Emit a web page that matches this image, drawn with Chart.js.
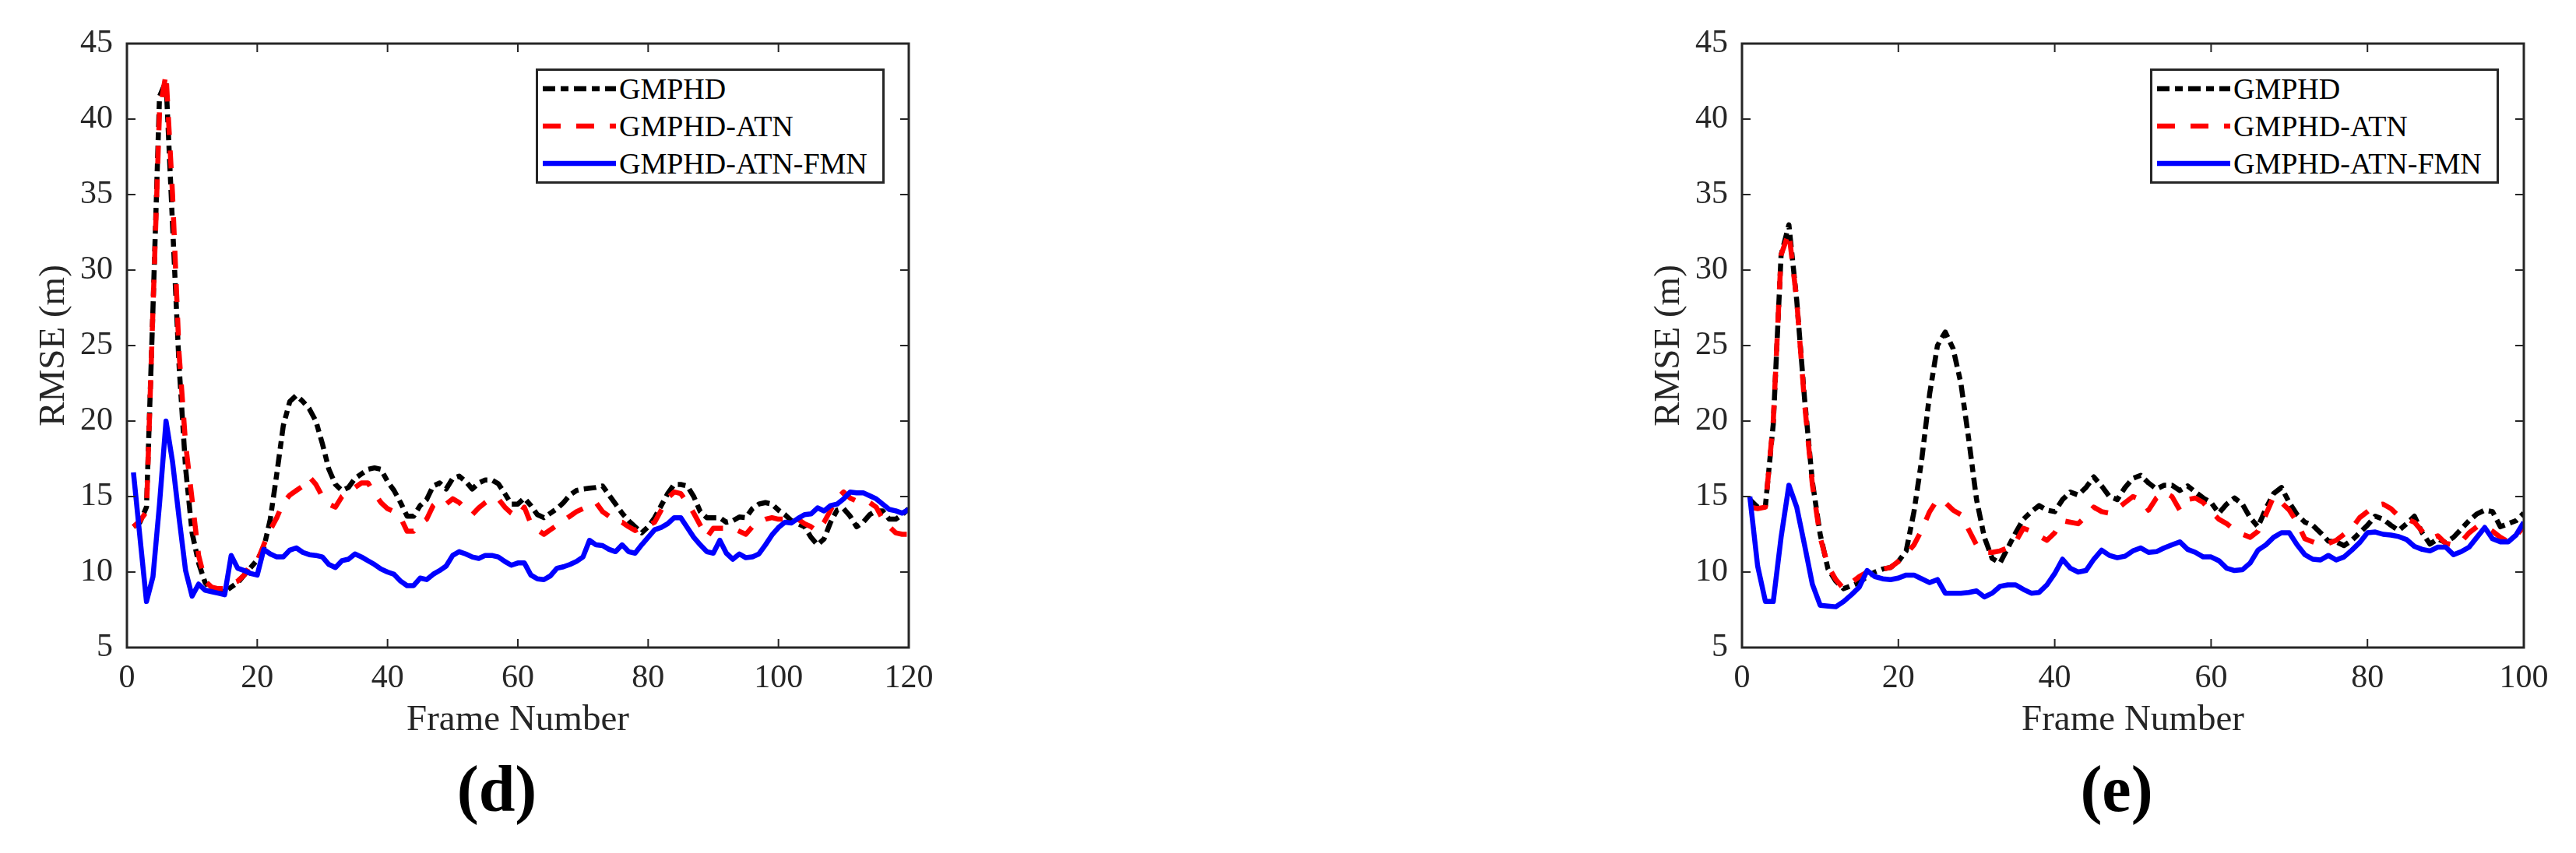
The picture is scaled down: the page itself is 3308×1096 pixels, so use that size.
<!DOCTYPE html>
<html>
<head>
<meta charset="utf-8">
<script src="https://cdn.jsdelivr.net/npm/chart.js@4.4.1/dist/chart.umd.min.js"></script>
<style>
  body { margin: 0; width: 3308px; height: 1096px; position: relative; overflow: hidden; background: #fff; }
  canvas { position: absolute; top: 0; }
  .legend { position: absolute; top: 88px; width: 448px; height: 148px; box-sizing: border-box;
            border: 3px solid #262626; background: #fff; }
  .legend svg { position: absolute; left: 6px; }
  .legend span { position: absolute; left: 104px; font: 38px/38px "Liberation Serif", serif; color: #000; white-space: nowrap; }
  .sub { position: absolute; top: 972px; width: 200px; text-align: center;
         font: bold 84px/84px "Liberation Serif", serif; color: #000; }
</style>
</head>
<body>
<canvas id="chart-d" width="1300" height="1096" style="left:0px"></canvas>
<canvas id="chart-e" width="1234" height="1096" style="left:2074px"></canvas>

<div class="legend" style="left:688px">
  <svg width="96" height="12" style="top:17px"><line x1="0" y1="6" x2="94" y2="6" stroke="#000" stroke-width="6.5" stroke-dasharray="16 7 10 7"/></svg>
  <span style="top:4px">GMPHD</span>
  <svg width="96" height="12" style="top:65px"><line x1="0" y1="6" x2="94" y2="6" stroke="#f00" stroke-width="6.5" stroke-dasharray="23 20"/></svg>
  <span style="top:52px">GMPHD-ATN</span>
  <svg width="96" height="12" style="top:113px"><line x1="0" y1="6" x2="94" y2="6" stroke="#00f" stroke-width="6.5"/></svg>
  <span style="top:100px">GMPHD-ATN-FMN</span>
</div>
<div class="legend" style="left:2761px">
  <svg width="96" height="12" style="top:17px"><line x1="0" y1="6" x2="94" y2="6" stroke="#000" stroke-width="6.5" stroke-dasharray="16 7 10 7"/></svg>
  <span style="top:4px">GMPHD</span>
  <svg width="96" height="12" style="top:65px"><line x1="0" y1="6" x2="94" y2="6" stroke="#f00" stroke-width="6.5" stroke-dasharray="23 20"/></svg>
  <span style="top:52px">GMPHD-ATN</span>
  <svg width="96" height="12" style="top:113px"><line x1="0" y1="6" x2="94" y2="6" stroke="#00f" stroke-width="6.5"/></svg>
  <span style="top:100px">GMPHD-ATN-FMN</span>
</div>

<div class="sub" style="left:538px">(d)</div>
<div class="sub" style="left:2618px">(e)</div>

<script>
// (d) frames 1..120
const blackD = [
  13.0, 13.3, 14.3, 27.5, 41.5, 42.5, 33.0, 23.7, 16.9, 12.6,
  10.6, 9.3, 8.8, 8.7, 8.7, 9.0, 9.3, 9.8, 10.3, 10.8,
  11.6, 13.5, 16.5, 19.7, 21.3, 21.7, 21.3, 20.8, 20.0, 18.5,
  16.8, 15.8, 15.4, 15.6, 16.2, 16.5, 16.8, 16.9, 16.8, 16.0,
  15.4, 14.6, 13.7, 13.7, 14.4, 14.8, 15.7, 15.9, 15.5, 16.2,
  16.35, 16.0, 15.5, 15.9, 16.1, 16.1, 15.85, 15.2, 14.5, 14.5,
  14.9, 14.4, 13.8, 13.6, 13.9, 14.2, 14.6, 15.1, 15.4, 15.5,
  15.55, 15.6, 15.7, 15.1, 14.5, 13.9, 13.4, 13.0, 12.6, 13.0,
  13.6, 14.4, 15.2, 15.8, 15.8, 15.7, 15.0, 14.0, 13.6, 13.6,
  13.6, 13.3, 13.4, 13.65, 13.6, 14.2, 14.5, 14.6, 14.5, 14.1,
  13.8, 13.4, 13.2, 13.0, 12.3, 11.8, 12.2, 13.3, 14.1, 14.2,
  13.7, 13.0, 13.3, 13.8, 14.05, 14.05, 13.5, 13.5, 13.8, 14.2
];
const redD = [
  13.0, 13.4, 14.0, 27.5, 40.5, 43.0, 35.0, 24.5, 18.5, 14.8,
  11.1, 9.4, 9.0, 8.9, 8.9, 9.25, 9.4, 9.8, 10.5, 10.7,
  11.8, 12.8, 13.6, 14.6, 15.1, 15.4, 15.7, 16.3, 15.8, 15.0,
  14.5, 14.3, 15.0, 15.3, 15.6, 15.9, 15.9, 15.2, 14.6, 14.2,
  14.0, 13.6, 12.7, 12.7, 13.2, 13.5, 14.4, 14.75, 14.5, 14.85,
  14.6, 14.2, 13.8, 14.25, 14.6, 14.9, 14.85, 14.3, 13.9, 13.65,
  14.3, 13.2, 12.8, 12.5, 12.8, 13.1, 13.4, 13.7, 14.0, 14.2,
  14.4, 14.6, 14.0, 13.7, 13.3, 13.3, 13.0, 12.75, 13.0, 13.1,
  13.3, 14.1, 14.9, 15.3, 15.2, 14.6, 13.9, 13.1, 12.3, 12.9,
  12.9, 12.9, 12.9, 12.7, 12.5, 13.0, 13.3, 13.5, 13.6, 13.5,
  13.5, 13.4, 13.5, 13.2, 13.0, 12.7, 13.3, 14.1, 14.9, 15.3,
  14.9, 14.7, 14.75, 14.6, 14.3, 13.5, 13.0, 12.6, 12.5, 12.5
];
const blueD = [
  16.6, 12.3, 8.05, 9.7, 14.5, 20.0, 17.3, 13.6, 10.1, 8.4,
  9.2, 8.8, 8.7, 8.6, 8.5, 11.1, 10.25, 10.1, 9.9, 9.8,
  11.5, 11.2, 11.0, 11.0, 11.45, 11.6, 11.3, 11.15, 11.1, 11.0,
  10.5, 10.3, 10.75, 10.85, 11.2, 11.0, 10.75, 10.5, 10.2, 10.0,
  9.85, 9.4, 9.1, 9.1, 9.6, 9.5, 9.85, 10.1, 10.4, 11.1,
  11.35, 11.2, 11.0, 10.9, 11.1, 11.1, 11.0, 10.7, 10.45, 10.6,
  10.6, 9.8, 9.55, 9.5, 9.75, 10.25, 10.35, 10.5, 10.7, 11.0,
  12.1, 11.8, 11.75, 11.5, 11.35, 11.8, 11.35, 11.25, 11.8, 12.3,
  12.8, 12.95, 13.2, 13.6, 13.6, 12.95, 12.3, 11.8, 11.35, 11.25,
  12.1, 11.25, 10.85, 11.2, 10.95, 11.0, 11.2, 11.8, 12.45, 12.95,
  13.3, 13.25, 13.55, 13.8, 13.85, 14.25, 14.05, 14.4, 14.5, 14.85,
  15.3, 15.25, 15.25, 15.05, 14.85, 14.5, 14.15, 14.05, 13.9, 14.15
];

// (e) frames 1..100
const blackE = [
  14.8, 14.3, 14.4, 19.8, 31.0, 33.0, 28.0, 21.5, 16.0, 12.5,
  10.2, 9.4, 8.9, 9.1, 9.3, 9.7, 10.0, 10.2, 10.3, 10.7,
  11.4, 14.0, 17.5, 21.8, 25.0, 25.9, 24.8, 22.5, 18.8, 14.8,
  12.3, 10.9, 10.6, 11.6, 12.6, 13.5, 14.0, 14.4, 14.1, 14.0,
  14.8, 15.3, 15.1, 15.6, 16.3, 15.7, 15.0, 14.8, 15.6, 16.2,
  16.4, 15.9, 15.5, 15.75, 15.75, 15.4, 15.7, 15.3, 14.9, 14.6,
  13.9, 14.5, 14.9, 14.5, 13.6, 13.0, 14.2, 15.2, 15.6, 14.6,
  13.8, 13.3, 13.1, 12.6, 12.05, 12.0, 11.75, 12.1, 12.6, 13.1,
  13.7, 13.5, 13.1, 12.75, 13.2, 13.7, 12.6, 11.85, 12.2, 11.95,
  12.3, 12.85, 13.4, 13.85, 14.1, 14.0, 13.0, 13.2, 13.4, 13.9
];
const redE = [
  14.3, 14.2, 14.3, 20.0, 31.0, 32.5, 28.0, 21.2, 15.8, 12.3,
  10.4, 9.5, 8.9, 9.3, 9.7, 10.0, 10.1, 10.2, 10.3, 10.7,
  11.2, 11.8, 12.8, 14.0, 14.8, 14.6, 14.1, 13.8, 12.8, 11.8,
  11.3, 11.3, 11.4, 11.6, 12.0, 12.9, 12.7, 12.4, 12.1, 12.6,
  13.4, 13.3, 13.2, 13.7, 14.3, 14.0, 13.9, 14.2, 14.6, 15.0,
  14.8, 14.1, 14.9, 15.3, 15.0, 14.1, 14.8, 14.9, 14.6, 14.0,
  13.5, 13.2, 12.8, 12.5, 12.3, 12.7, 13.8, 15.0, 14.6, 14.1,
  13.3, 12.2, 12.0, 11.8, 11.9, 12.1, 12.5, 12.9, 13.6, 14.0,
  14.4, 14.5, 14.2, 13.7, 13.5, 13.3, 12.7, 12.2, 12.4, 11.9,
  11.8, 12.0, 12.6, 13.0, 13.0, 12.7, 12.3, 12.0, 12.4, 13.0
];
const blueE = [
  15.0, 10.4, 8.05, 8.05, 12.3, 15.75, 14.3, 11.8, 9.2, 7.8,
  7.75, 7.7, 8.05, 8.5, 9.0, 10.1, 9.7, 9.55, 9.5, 9.6,
  9.8, 9.8, 9.55, 9.3, 9.5, 8.6, 8.6, 8.6, 8.65, 8.75,
  8.35, 8.6, 9.05, 9.15, 9.15, 8.85, 8.6, 8.65, 9.15, 9.9,
  10.85, 10.25, 10.0, 10.1, 10.85, 11.45, 11.1, 10.95, 11.05, 11.4,
  11.6, 11.3, 11.35, 11.6, 11.8, 12.0, 11.5, 11.3, 11.0, 11.0,
  10.75, 10.25, 10.1, 10.15, 10.6, 11.45, 11.8, 12.3, 12.6, 12.6,
  11.8, 11.15, 10.85, 10.8, 11.1, 10.8, 11.0, 11.45, 11.95, 12.6,
  12.65, 12.5, 12.45, 12.35, 12.15, 11.7, 11.5, 11.4, 11.65, 11.65,
  11.15, 11.35, 11.65, 12.3, 12.95, 12.2, 12.0, 12.0, 12.45, 13.3
];

const yTicks = [5, 10, 15, 20, 25, 30, 35, 40, 45];
const xTicksD = [0, 20, 40, 60, 80, 100, 120];
const xTicksE = [0, 20, 40, 60, 80, 100];

const axisColor = '#262626';
const serif = 'Liberation Serif';

// MATLAB style box with inward ticks, drawn over the lines
const matlabFrame = {
  id: 'matlabFrame',
  afterDatasetsDraw(chart) {
    const { ctx, chartArea: a, scales: { x, y } } = chart;
    ctx.save();
    ctx.strokeStyle = axisColor;
    ctx.lineWidth = 2;
    ctx.beginPath();
    x.ticks.forEach(t => {
      const p = x.getPixelForValue(t.value);
      ctx.moveTo(p, a.bottom); ctx.lineTo(p, a.bottom - 11);
      ctx.moveTo(p, a.top); ctx.lineTo(p, a.top + 11);
    });
    y.ticks.forEach(t => {
      const p = y.getPixelForValue(t.value);
      ctx.moveTo(a.left, p); ctx.lineTo(a.left + 11, p);
      ctx.moveTo(a.right, p); ctx.lineTo(a.right - 11, p);
    });
    ctx.stroke();
    ctx.lineWidth = 3;
    ctx.strokeRect(a.left, a.top, a.right - a.left, a.bottom - a.top);
    ctx.restore();
  }
};

function series(values) {
  return values.map((v, i) => ({ x: i + 1, y: v }));
}

function makeChart(id, black, red, blue, xTicks) {
  const canvas = document.getElementById(id);
  const plotRight = 163 + 1004;
  return new Chart(canvas.getContext('2d'), {
    type: 'line',
    data: {
      datasets: [
        { label: 'GMPHD', data: series(black), borderColor: '#000000', borderWidth: 6.5,
          borderDash: [16, 7, 10, 7], pointRadius: 0, order: 3, clip: 0 },
        { label: 'GMPHD-ATN', data: series(red), borderColor: '#ff0000', borderWidth: 6.5,
          borderDash: [23, 20], pointRadius: 0, order: 2, clip: 0 },
        { label: 'GMPHD-ATN-FMN', data: series(blue), borderColor: '#0000ff', borderWidth: 6.5,
          pointRadius: 0, order: 1, clip: 0 }
      ]
    },
    options: {
      responsive: false,
      animation: false,
      devicePixelRatio: 1,
      layout: { padding: { left: 0, top: 56, right: canvas.width - plotRight, bottom: 142 } },
      elements: { line: { tension: 0, borderJoinStyle: 'round' } },
      plugins: { legend: { display: false }, tooltip: { enabled: false } },
      scales: {
        x: {
          type: 'linear',
          min: xTicks[0],
          max: xTicks[xTicks.length - 1],
          afterFit: s => { s.height = 122; },
          afterBuildTicks: s => { s.ticks = xTicks.map(v => ({ value: v })); },
          grid: { display: false, drawTicks: false },
          border: { display: false },
          ticks: { padding: 15, maxRotation: 0, color: axisColor, font: { family: serif, size: 42 } },
          title: { display: true, text: 'Frame Number', color: axisColor,
                   font: { family: serif, size: 47 }, padding: { top: 0, bottom: 0 } }
        },
        y: {
          min: yTicks[0],
          max: yTicks[yTicks.length - 1],
          afterFit: s => { s.width = 163; },
          afterBuildTicks: s => { s.ticks = yTicks.map(v => ({ value: v })); },
          grid: { display: false, drawTicks: false },
          border: { display: false },
          ticks: { padding: 18, color: axisColor, font: { family: serif, size: 42 } },
          title: { display: true, text: 'RMSE (m)', color: axisColor,
                   font: { family: serif, size: 47 }, padding: { top: 41, bottom: 0 } }
        }
      }
    },
    plugins: [matlabFrame]
  });
}

makeChart('chart-d', blackD, redD, blueD, xTicksD);
makeChart('chart-e', blackE, redE, blueE, xTicksE);
</script>
</body>
</html>
